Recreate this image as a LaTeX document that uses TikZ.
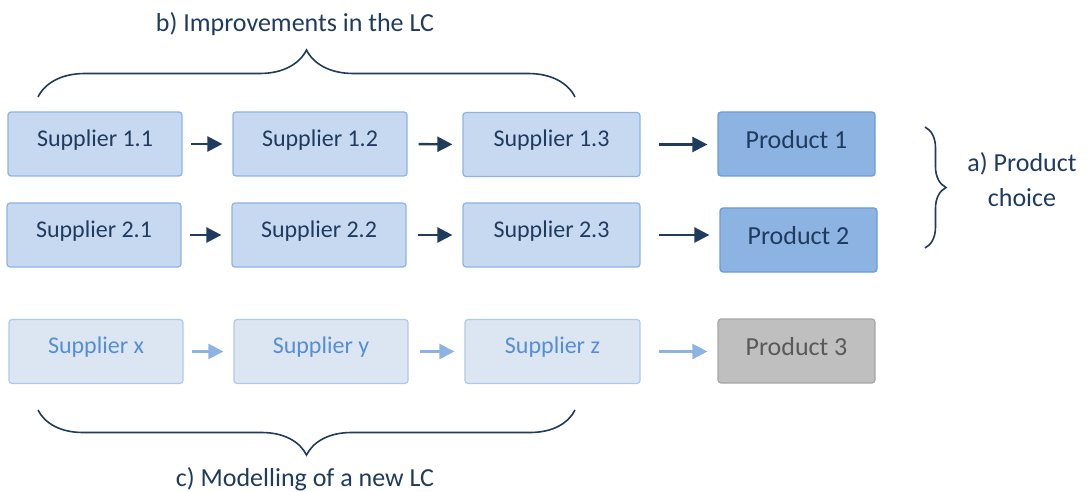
\documentclass[tikz,border=0pt]{standalone}
\usepackage{fontspec}
\setmainfont{Carlito}
\usetikzlibrary{arrows.meta,decorations.pathreplacing}
\definecolor{navy}{HTML}{1F3B5E}
\definecolor{supfill}{HTML}{C6D9F1}
\definecolor{supline}{HTML}{8DB3E2}
\definecolor{prodfill}{HTML}{8DB3E2}
\definecolor{prodline}{HTML}{6A9BD8}
\definecolor{newfill}{HTML}{DCE6F2}
\definecolor{newline}{HTML}{B0C9E8}
\definecolor{newtext}{HTML}{558ED5}
\definecolor{greyfill}{HTML}{BFBFBF}
\definecolor{greyline}{HTML}{A6A6A6}
\definecolor{greytext}{HTML}{595959}

\begin{document}
\begin{tikzpicture}[x=1pt,y=-1pt,
			supplier/.style={draw=supline, fill=supfill, line width=1.2pt, rounded corners=3pt,
				minimum width=174pt, minimum height=64pt, text=navy,
				font=\fontsize{24}{29}\selectfont, text height=18pt, text depth=13.6pt},
			product/.style={supplier, draw=prodline, fill=prodfill, minimum width=157pt,
				font=\fontsize{26}{31}\selectfont, text height=20pt, text depth=11pt},
			newsupplier/.style={supplier, draw=newline, fill=newfill, text=newtext},
			newproduct/.style={product, draw=greyline, fill=greyfill, text=greytext},
			arr/.style={draw=navy, line width=2.4pt, -{Triangle[length=15pt,width=15pt]}},
			newarr/.style={arr, draw=supline},
			brace/.style={draw=navy, line width=1.6pt, decorate},
			lbl/.style={text=navy, font=\fontsize{26}{35.5}\selectfont, anchor=base}]
			\useasboundingbox (0,0) rectangle (1088,492);

			% first life cycle
			\node[supplier] (s11) at (95,144) {Supplier 1.1};
			\node[supplier] (s12) at (320,144) {Supplier 1.2};
			\node[supplier, minimum width=177pt] (s13) at (551.5,144.5) {Supplier 1.3};
			\node[product] (p1) at (796.5,144) {Product 1};

			% second life cycle
			\node[supplier] (s21) at (94,235) {Supplier 2.1};
			\node[supplier] (s22) at (319,235) {Supplier 2.2};
			\node[supplier, minimum width=177pt] (s23) at (551.5,235) {Supplier 2.3};
			\node[product] (p2) at (798.5,240) {Product 2};

			% new life cycle
			\node[newsupplier] (sx) at (96,351.5) {Supplier x};
			\node[newsupplier] (sy) at (321,351.5) {Supplier y};
			\node[newsupplier, minimum width=175pt] (sz) at (552.5,351.5) {Supplier z};
			\node[newproduct] (p3) at (796.5,351) {Product 3};

			\begin{scope}[shorten >=10pt]
				\draw[arr, shorten <=8pt] (s11.east) -- (s12.west);
				\draw[arr, shorten <=11pt] (s12.east) -- (s13.west);
				\draw[arr, shorten <=18pt] (s13.east) -- (s13.east -| p1.west);
				\draw[arr, shorten <=8pt] (s21.east) -- (s22.west);
				\draw[arr, shorten <=11pt] (s22.east) -- (s23.west);
				\draw[arr, shorten <=18pt] (s23.east) -- (s23.east -| p2.west);
				\draw[newarr, shorten <=8pt] (sx.east) -- (sy.west);
				\draw[newarr, shorten <=11pt] (sy.east) -- (sz.west);
				\draw[newarr, shorten <=18pt] (sz.east) -- (sz.east -| p3.west);
			\end{scope}

			% braces
			\draw[brace, decoration={brace, amplitude=47pt}] (38,97) -- (575,97);
			\draw[brace, decoration={brace, amplitude=45pt}] (575,410) -- (38,410);
			\draw[brace, decoration={brace, amplitude=21pt}] (925,127) -- (925,248);

			\node[lbl] (improve) at (295,32) {b) Improvements in the LC};
			\node[lbl] (modelling) at (305,486) {c) Modelling of a new LC};
			\node[lbl, align=center] (choice) at (1022,207) {a) Product\\choice};

		\end{tikzpicture}
\end{document}
